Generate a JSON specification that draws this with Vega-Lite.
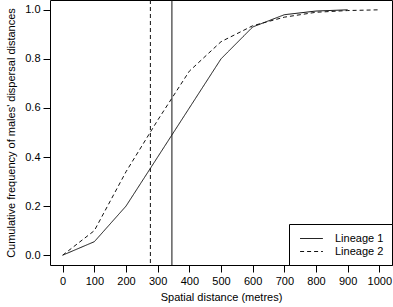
{
  "$schema": "https://vega.github.io/schema/vega-lite/v6.json",
  "autosize": "none",
  "width": 342,
  "height": 265,
  "padding": {"left": 50, "top": 0, "right": 1, "bottom": 42},
  "config": {
    "font": "Liberation Sans",
    "view": {"stroke": "#000", "strokeWidth": 1},
    "axis": {"labelFont": "Liberation Sans", "titleFont": "Liberation Sans", "labelFontSize": 11, "titleFontSize": 11, "titleFontWeight": "normal", "labelColor": "#000", "titleColor": "#000", "tickColor": "#000", "grid": false, "domain": false, "tickSize": 7}
  },
  "datasets": {
    "curves": [
      {"distance": 0, "freq": 0, "lineage": "Lineage 1"},
      {"distance": 100, "freq": 0.055, "lineage": "Lineage 1"},
      {"distance": 200, "freq": 0.2, "lineage": "Lineage 1"},
      {"distance": 300, "freq": 0.4, "lineage": "Lineage 1"},
      {"distance": 400, "freq": 0.6, "lineage": "Lineage 1"},
      {"distance": 500, "freq": 0.8, "lineage": "Lineage 1"},
      {"distance": 600, "freq": 0.93, "lineage": "Lineage 1"},
      {"distance": 700, "freq": 0.98, "lineage": "Lineage 1"},
      {"distance": 800, "freq": 0.995, "lineage": "Lineage 1"},
      {"distance": 900, "freq": 1.0, "lineage": "Lineage 1"},
      {"distance": 0, "freq": 0, "lineage": "Lineage 2"},
      {"distance": 100, "freq": 0.1, "lineage": "Lineage 2"},
      {"distance": 200, "freq": 0.34, "lineage": "Lineage 2"},
      {"distance": 300, "freq": 0.55, "lineage": "Lineage 2"},
      {"distance": 400, "freq": 0.75, "lineage": "Lineage 2"},
      {"distance": 500, "freq": 0.87, "lineage": "Lineage 2"},
      {"distance": 600, "freq": 0.935, "lineage": "Lineage 2"},
      {"distance": 700, "freq": 0.97, "lineage": "Lineage 2"},
      {"distance": 800, "freq": 0.99, "lineage": "Lineage 2"},
      {"distance": 900, "freq": 0.997, "lineage": "Lineage 2"},
      {"distance": 1000, "freq": 1.0, "lineage": "Lineage 2"}
    ],
    "means": [
      {"distance": 345, "lineage": "Lineage 1"},
      {"distance": 277, "lineage": "Lineage 2"}
    ]
  },
  "encoding": {
    "x": {"field": "distance", "type": "quantitative", "scale": {"domain": [-40, 1040], "nice": false, "zero": false},
      "axis": {"values": [0,100,200,300,400,500,600,700,800,900,1000], "tickCount": 11, "format": "d", "labelOverlap": false, "labelBound": false, "labelSeparation": 0, "title": "Spatial distance (metres)", "labelPadding": 3, "titlePadding": 5}},
    "strokeDash": {"field": "lineage", "type": "nominal",
      "scale": {"domain": ["Lineage 1", "Lineage 2"], "range": [[1, 0], [4, 3]]},
      "legend": {"title": null, "orient": "bottom-right", "offset": 0, "strokeColor": "#000", "fillColor": "#fff", "padding": 8, "symbolType": "M-1.9,0H1.9", "symbolSize": 144, "symbolOffset": 8, "symbolStrokeWidth": 1, "symbolStrokeColor": "#111", "labelFontSize": 11, "labelFont": "Liberation Sans", "labelColor": "#000", "labelOffset": 17, "rowPadding": 1, "labelExpr": "datum.label + '    '"}}
  },
  "layer": [
    {
      "data": {"name": "curves"},
      "mark": {"type": "line", "stroke": "#111", "strokeWidth": 1},
      "encoding": {
        "y": {"field": "freq", "type": "quantitative", "scale": {"domain": [-0.04, 1.04], "nice": false, "zero": false},
          "axis": {"values": [0, 0.2, 0.4, 0.6, 0.8, 1.0], "format": ".1f", "labelOverlap": false, "title": "Cumulative frequency of males' dispersal distances", "labelPadding": 3, "titlePadding": 8}}
      }
    },
    {
      "data": {"name": "means"},
      "mark": {"type": "rule", "stroke": "#111", "strokeWidth": 1},
      "encoding": {}
    }
  ]
}
